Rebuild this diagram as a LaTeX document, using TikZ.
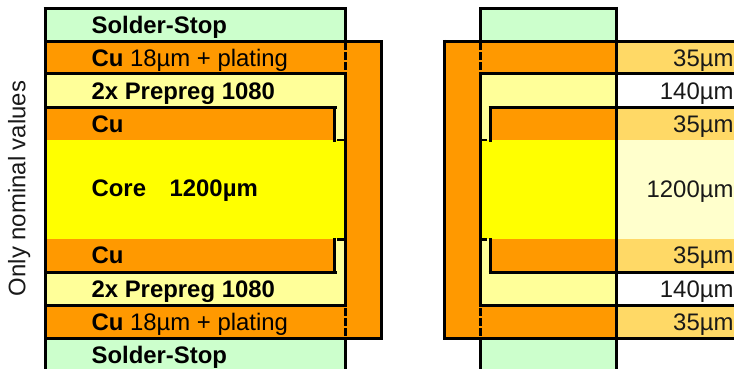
\documentclass[tikz,border=0pt]{standalone}
\usepackage{fontspec}
\setmainfont{Liberation Sans}
\definecolor{cuC}{HTML}{FF9900}
\definecolor{ppC}{HTML}{FFFF99}
\definecolor{coreC}{HTML}{FFFF00}
\definecolor{ssC}{HTML}{CCFFCC}
\definecolor{tblCu}{HTML}{FFD966}
\definecolor{tblCore}{HTML}{FFFFCC}
\tikzset{
  ln/.style={line width=3pt,black},
  tick/.style={line width=2.6pt,black},
  dsh/.style={line width=3pt,black,dash pattern=on 8pt off 2.2pt},
  lbl/.style={anchor=base west,inner sep=0pt,outer sep=0pt,yshift=-0.8pt,font=\fontsize{23.9}{26}\selectfont,text=black},
  val/.style={anchor=base east,inner sep=0pt,outer sep=0pt,yshift=-0.8pt,font=\fontsize{23.9}{26}\selectfont,text=black!90},
}
\begin{document}
\begin{tikzpicture}[x=1pt,y=-1pt]
\useasboundingbox (0,0) rectangle (734,369);
% --- fills, left stack
\fill[ssC] (45,8.5) rectangle (345.3,41.3);
\fill[cuC] (45,41.3) rectangle (381.3,338.3);
\fill[ppC] (45,74) rectangle (345.3,107.3);
\fill[ppC] (45,272.3) rectangle (345.3,305.3);
\fill[ppC] (334,107.3) rectangle (345.3,140);
\fill[ppC] (334,239.3) rectangle (345.3,272.3);
\fill[coreC] (45,140) rectangle (345.3,239.3);
\fill[ssC] (45,338.3) rectangle (345.3,369);
% --- fills, right stack
\fill[ssC] (480.3,8.5) rectangle (616.3,41.3);
\fill[cuC] (444.7,41.3) rectangle (616.3,338.3);
\fill[ppC] (480.3,74) rectangle (616.3,107.3);
\fill[ppC] (480.3,272.3) rectangle (616.3,305.3);
\fill[ppC] (480.3,107.3) rectangle (490.3,140);
\fill[ppC] (480.3,239.3) rectangle (490.3,272.3);
\fill[coreC] (480.3,140) rectangle (616.3,239.3);
\fill[ssC] (480.3,338.3) rectangle (616.3,369);
% --- fills, value table
\fill[tblCu] (616.3,41.3) rectangle (734,74);
\fill[white] (616.3,74) rectangle (734,107.3);
\fill[tblCu] (616.3,107.3) rectangle (734,140);
\fill[tblCore] (616.3,140) rectangle (734,239.3);
\fill[tblCu] (616.3,239.3) rectangle (734,272.3);
\fill[white] (616.3,272.3) rectangle (734,305.3);
\fill[tblCu] (616.3,305.3) rectangle (734,338.3);
% --- left stack lines
\draw[ln] (45,369) -- (45,7) ;
\draw[ln] (43.5,8.5) -- (345.3,8.5) -- (345.3,41.3);
\draw[ln] (45,41.3) -- (381.3,41.3) -- (381.3,338.3) -- (45,338.3);
\draw[ln] (45,74) -- (345.3,74);
\draw[ln] (45,305.3) -- (345.3,305.3);
\draw[ln] (45,107.3) -- (336.7,107.3);
\draw[ln] (45,272.3) -- (336.7,272.3);
\draw[ln] (334.5,107.3) -- (334.5,141.7);
\draw[ln] (334.5,272.3) -- (334.5,237.6);
\draw[tick] (337,140) -- (345.3,140);
\draw[tick] (337,239.3) -- (345.3,239.3);
\draw[ln] (345.3,72.5) -- (345.3,306.8);
\draw[ln] (345.3,336.8) -- (345.3,369);
\draw[dsh] (345.3,42) -- (345.3,73);
\draw[dsh] (345.3,308) -- (345.3,338);
% --- right stack lines
\draw[ln] (480.3,41.3) -- (480.3,8.5) -- (617.8,8.5);
\draw[ln] (616.3,8.5) -- (616.3,41.3);
\draw[ln] (444.7,41.3) -- (734,41.3);
\draw[ln] (444.7,338.3) -- (734,338.3);
\draw[ln] (444.7,39.8) -- (444.7,339.8);
\draw[ln] (480.3,74) -- (734,74);
\draw[ln] (480.3,305.3) -- (734,305.3);
\draw[ln] (488.6,107.3) -- (734,107.3);
\draw[ln] (488.6,272.3) -- (734,272.3);
\draw[ln] (490.3,107.3) -- (490.3,141.7);
\draw[ln] (490.3,272.3) -- (490.3,237.6);
\draw[tick] (480.3,140) -- (487.3,140);
\draw[tick] (480.3,239.3) -- (487.3,239.3);
\draw[ln] (480.3,72.5) -- (480.3,306.8);
\draw[ln] (480.3,336.8) -- (480.3,369);
\draw[dsh] (480.3,42) -- (480.3,73);
\draw[dsh] (480.3,308) -- (480.3,338);
\draw[ln] (616.3,7) -- (616.3,369);
% --- labels
\node[lbl] (ssT) at (91.6,32.7) {\textbf{Solder-Stop}};
\node[lbl] (cuOT) at (91.6,66) {\textbf{Cu} 18µm + plating};
\node[lbl] (ppT) at (91.6,99) {\textbf{2x Prepreg 1080}};
\node[lbl] (cuIT) at (91.6,132) {\textbf{Cu}};
\node[lbl] (core) at (91.6,196) {\textbf{Core}};
\node[lbl] (coreV) at (169.6,196) {\textbf{1200µm}};
\node[lbl] (cuIB) at (91.6,263) {\textbf{Cu}};
\node[lbl] (ppB) at (91.6,296.5) {\textbf{2x Prepreg 1080}};
\node[lbl] (cuOB) at (91.6,329.3) {\textbf{Cu} 18µm + plating};
\node[lbl] (ssB) at (91.6,362.7) {\textbf{Solder-Stop}};
\node[val] (v1) at (733.5,66) {35µm};
\node[val] (v2) at (733.5,99) {140µm};
\node[val] (v3) at (733.5,132) {35µm};
\node[val] (v4) at (733.5,196.5) {1200µm};
\node[val] (v5) at (733.5,263) {35µm};
\node[val] (v6) at (733.5,296.7) {140µm};
\node[val] (v7) at (733.5,329.3) {35µm};
\node[anchor=base,rotate=90,inner sep=0pt,font=\fontsize{23.9}{26}\selectfont,text=black!90] (side) at (25.3,188.5) {Only nominal values};
\end{tikzpicture}
\end{document}
